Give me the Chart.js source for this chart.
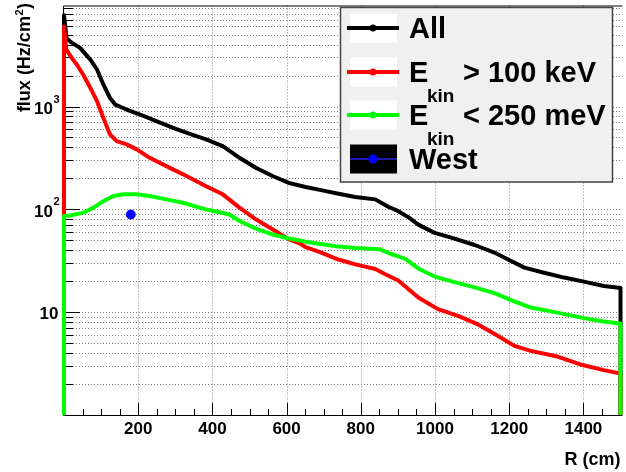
<!DOCTYPE html>
<html>
<head>
<meta charset="utf-8">
<script src="https://cdn.jsdelivr.net/npm/chart.js@4"></script>
<style>
  html, body { margin: 0; padding: 0; background: #fff; }
  canvas { display: block; }
</style>
</head>
<body>
<canvas id="flux-chart" width="626" height="472"></canvas>
<script>
// radius (cm) vs flux (Hz/cm^2); 0.1 = below the axis
const allR = [0, 0, 7, 20, 44, 71, 89, 106, 124, 138, 169, 205, 249, 294, 339, 383, 428, 473, 517, 562, 606, 651, 696, 740, 785, 839, 874, 901, 928, 955, 999, 1044, 1107, 1160, 1205, 1241, 1294, 1348, 1401, 1455, 1495, 1500, 1500];
const allFlux = [0.1, 7700, 4600, 4200, 3700, 2860, 2290, 1640, 1210, 1045, 935, 836, 720, 620, 542, 478, 412, 317, 254, 211, 181, 165, 153, 142, 132, 125, 106, 96, 84, 71, 59, 53, 45, 38, 31.5, 27.1, 24.2, 21.7, 19.8, 18, 17.3, 17.3, 0.1];

const fastR = [0, 0, 6, 20, 35, 53, 71, 89, 106, 124, 142, 169, 196, 231, 276, 321, 365, 383, 428, 473, 517, 562, 606, 634, 651, 688, 740, 785, 803, 839, 866, 901, 928, 955, 1008, 1062, 1116, 1169, 1214, 1258, 1330, 1392, 1455, 1498, 1500, 1500];
const fastFlux = [0.1, 6000, 3600, 3000, 2550, 2000, 1515, 1126, 775, 535, 460, 428, 383, 317, 263, 219, 181, 168, 140, 104, 80, 64, 51, 47, 43, 38.5, 32.5, 29.2, 28.2, 26.3, 23.4, 20.3, 16.8, 13.9, 10.7, 9.2, 7.6, 5.9, 4.7, 4.2, 3.7, 3.1, 2.73, 2.54, 2.54, 0.1];

const thermR = [0, 0, 17, 53, 80, 106, 133, 160, 196, 231, 276, 321, 365, 383, 428, 446, 473, 517, 562, 606, 634, 651, 696, 740, 785, 850, 880, 905, 920, 955, 999, 1050, 1107, 1160, 1205, 1258, 1330, 1401, 1455, 1498, 1500, 1500];
const thermFlux = [0.1, 86, 87, 93, 104, 120, 135, 140, 140, 135, 125, 116, 104, 100, 92, 89, 77, 65, 57, 52, 50, 48.5, 45.7, 43.4, 42, 41, 37, 34.5, 33, 26.6, 22.2, 19.7, 17.4, 15.3, 13.1, 11.1, 9.9, 8.75, 8.1, 7.75, 7.75, 0.1];

const westR = [180];
const westFlux = [89];

const xLabels = [200, 400, 600, 800, 1000, 1200, 1400];
const yLabelValues = [10, 100, 1000];
const yLabelExps = ['', '2', '3'];

const legendMain = ['All', 'E', 'E', 'West'];
const legendSub = ['', 'kin', 'kin', ''];
const legendRest = ['', '> 100 keV', '< 250 meV', ''];

const FONT = '"Liberation Sans", Arial, sans-serif';

function toPoints(xs, ys) {
  return xs.map((x, i) => ({ x, y: ys[i] }));
}

const yGrid = [];
[1, 10, 100, 1000].forEach(d => {
  for (let m = 1; m <= 9; m++) if (d * m > 1) yGrid.push(d * m);
});

const rootFrame = {
  id: 'rootFrame',
  beforeDatasetsDraw(chart) {
    const { ctx, chartArea: a, scales: { x, y } } = chart;
    ctx.save();
    ctx.lineWidth = 1;
    ctx.strokeStyle = '#808080';
    ctx.setLineDash([1, 2]);
    xLabels.forEach(v => {
      const px = Math.round(x.getPixelForValue(v)) + 0.5;
      ctx.beginPath(); ctx.moveTo(px, a.top); ctx.lineTo(px, a.bottom); ctx.stroke();
    });
    yGrid.forEach(v => {
      const py = Math.round(y.getPixelForValue(v)) + 0.5;
      ctx.beginPath(); ctx.moveTo(a.left, py); ctx.lineTo(a.right + 2, py); ctx.stroke();
    });
    ctx.setLineDash([]);

    // frame: left, top, bottom (right edge falls off the picture)
    ctx.strokeStyle = '#000';
    ctx.beginPath();
    ctx.moveTo(a.right + 2, a.top + 0.5);
    ctx.lineTo(a.left - 0.5, a.top + 0.5);
    ctx.lineTo(a.left - 0.5, a.bottom + 0.5);
    ctx.lineTo(a.right + 2, a.bottom + 0.5);
    ctx.stroke();

    // ticks, drawn inside the frame
    ctx.beginPath();
    yGrid.forEach(v => {
      const py = Math.round(y.getPixelForValue(v)) + 0.5;
      const len = yLabelValues.includes(v) ? 16 : 9;
      ctx.moveTo(a.left, py); ctx.lineTo(a.left + len, py);
    });
    for (let v = 50; v < 1500; v += 50) {
      const px = Math.round(x.getPixelForValue(v)) + 0.5;
      const len = v % 200 === 0 ? 12 : 6;
      ctx.moveTo(px, a.bottom); ctx.lineTo(px, a.bottom - len);
    }
    ctx.stroke();
    ctx.restore();
  },
  afterDatasetsDraw(chart) {
    const { ctx, chartArea: a, scales: { x, y } } = chart;
    ctx.save();
    ctx.fillStyle = '#000';

    // x labels
    ctx.font = 'bold 17px ' + FONT;
    ctx.textAlign = 'center';
    ctx.textBaseline = 'alphabetic';
    xLabels.forEach(v => ctx.fillText(String(v), x.getPixelForValue(v), 434));
    ctx.font = 'bold 18px ' + FONT;
    ctx.textAlign = 'right';
    ctx.fillText('R (cm)', a.right, 465);

    // y labels
    yLabelValues.forEach((v, i) => {
      const py = y.getPixelForValue(v);
      ctx.textAlign = 'right';
      ctx.font = 'bold 17px ' + FONT;
      if (yLabelExps[i]) {
        ctx.fillText('10', 53, py + 7.5);
        ctx.textAlign = 'left';
        ctx.font = 'bold 11px ' + FONT;
        ctx.fillText(yLabelExps[i], 53.5, py - 4);
      } else {
        ctx.fillText('10', 58.5, py + 7);
      }
    });

    // y title
    ctx.save();
    ctx.translate(30, 0);
    ctx.rotate(-Math.PI / 2);
    ctx.textAlign = 'left';
    ctx.font = 'bold 18px ' + FONT;
    const w1 = ctx.measureText('flux (Hz/cm').width;
    const w3 = ctx.measureText(')').width;
    ctx.font = 'bold 11px ' + FONT;
    const w2 = ctx.measureText('2').width + 1;
    let u = -(3 + w1 + w2 + w3);
    ctx.font = 'bold 18px ' + FONT;
    ctx.fillText('flux (Hz/cm', u, 0);
    ctx.font = 'bold 11px ' + FONT;
    ctx.fillText('2', u + w1 + 0.5, -7);
    ctx.font = 'bold 18px ' + FONT;
    ctx.fillText(')', u + w1 + w2, 0);
    ctx.restore();

    // legend
    ctx.fillStyle = '#f0f0f0';
    ctx.fillRect(340.5, 7.5, 272, 174.5);
    ctx.strokeStyle = '#444';
    ctx.lineWidth = 1.5;
    ctx.strokeRect(340.5, 7.5, 272, 174.5);
    const ds = chart.data.datasets;
    const rows = [28, 72, 115, 159];
    rows.forEach((cy, i) => {
      const set = ds[i];
      ctx.fillStyle = i === 3 ? '#000' : '#fff';
      ctx.fillRect(350, cy - 14.5, 47, 29);
      ctx.strokeStyle = set.borderColor;
      ctx.lineWidth = i === 3 ? 2 : 4;
      ctx.beginPath(); ctx.moveTo(i === 3 ? 350 : 347, cy); ctx.lineTo(i === 3 ? 397 : 399, cy); ctx.stroke();
      ctx.fillStyle = i === 3 ? set.pointBackgroundColor : set.borderColor;
      ctx.beginPath(); ctx.arc(373, cy, i === 3 ? 4.5 : 3.5, 0, Math.PI * 2); ctx.fill();

      ctx.fillStyle = '#000';
      ctx.textAlign = 'left';
      ctx.font = 'bold 29px ' + FONT;
      ctx.fillText(legendMain[i], 409, cy + 10);
      if (legendSub[i]) {
        ctx.font = 'bold 19px ' + FONT;
        ctx.fillText(legendSub[i], 427, cy + 30);
        ctx.font = 'bold 29px ' + FONT;
        ctx.fillText(legendRest[i], 463, cy + 10);
      }
    });
    ctx.restore();
  }
};

const lineStyle = {
  showLine: true,
  pointRadius: 0,
  borderWidth: 4,
  tension: 0,
  borderJoinStyle: 'round',
  clip: { left: 3, top: 0, right: 3, bottom: 0 }
};

new Chart(document.getElementById('flux-chart'), {
  type: 'scatter',
  data: {
    datasets: [
      { ...lineStyle, label: 'All', data: toPoints(allR, allFlux), borderColor: '#000000', order: 3 },
      { ...lineStyle, label: 'E_kin > 100 keV', data: toPoints(fastR, fastFlux), borderColor: '#ff0000', order: 2 },
      { ...lineStyle, label: 'E_kin < 250 meV', data: toPoints(thermR, thermFlux), borderColor: '#00ff00', order: 1 },
      { label: 'West', data: toPoints(westR, westFlux), showLine: false, pointRadius: 4.5,
        pointStyle: 'circle', borderColor: '#1a1ab0', pointBackgroundColor: '#0000ff',
        pointBorderColor: '#0000ff', order: 0 }
    ]
  },
  options: {
    responsive: false,
    animation: false,
    devicePixelRatio: 1,
    layout: { padding: { left: 64, top: 4, right: 2, bottom: 57 } },
    plugins: { legend: { display: false }, tooltip: { enabled: false } },
    scales: {
      x: { type: 'linear', min: 0, max: 1500, display: false },
      y: { type: 'logarithmic', min: 1, max: 9600, display: false }
    }
  },
  plugins: [rootFrame]
});
</script>
</body>
</html>
